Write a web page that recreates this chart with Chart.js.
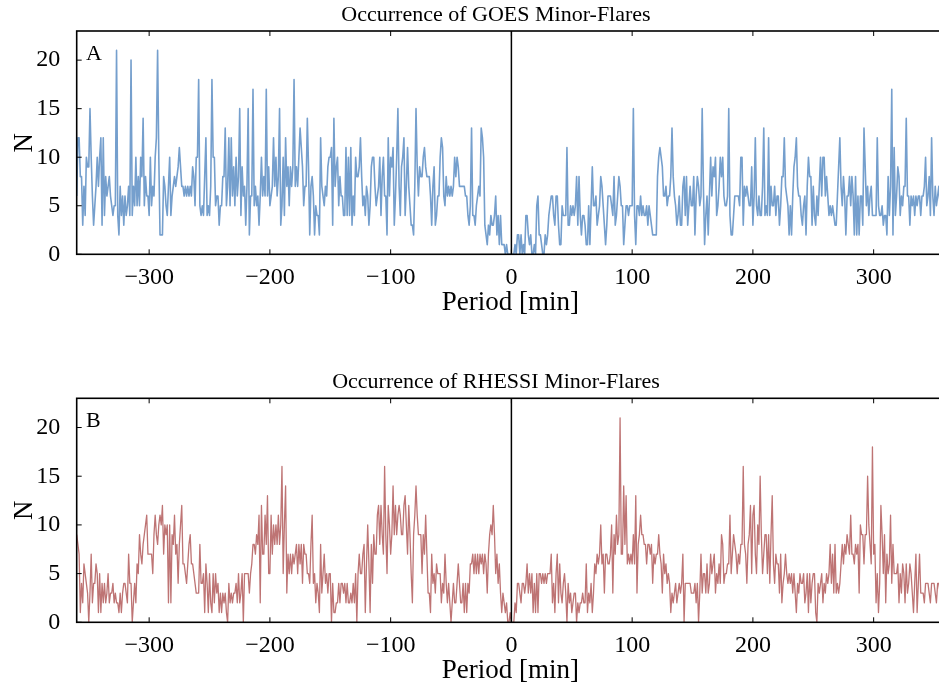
<!DOCTYPE html>
<html>
<head>
<meta charset="utf-8">
<title>Minor-flare occurrence</title>
<script src="https://cdn.jsdelivr.net/npm/chart.js@4.4.1/dist/chart.umd.min.js"></script>
<style>
  html, body { margin: 0; padding: 0; background: #ffffff; overflow: hidden; width: 939px; height: 689px; }
  canvas { position: absolute; left: 0; }
  #goes { top: 0; }
  #rhessi { top: 345px; }
</style>
</head>
<body>
<canvas id="goes" width="960" height="345"></canvas>
<canvas id="rhessi" width="960" height="344"></canvas>
<script>
// Period offsets in minutes, one bin per minute
const periods = Array.from({ length: 721 }, (_, i) => i - 360);

// GOES minor-flare counts per period bin (-360 … 360)
const goesCounts = [
  6,12,12,8,8,3,7,4,10,9,        // -360
  9,15,10,6,3,5,7,10,7,10,       // -350
  12,3,12,4,8,6,7,8,6,5,         // -340
  4,5,5,21,4,2,7,4,6,3,          // -330
  6,4,5,7,4,20,4,7,5,10,         // -320
  5,8,5,10,8,14,5,8,6,6,         // -310
  4,10,5,7,6,10,12,21,10,2,      // -300
  2,2,8,7,5,4,7,10,4,6,          // -290
  7,8,7,8,9,11,9,7,7,6,          // -280
  7,6,7,6,7,6,9,8,5,10,          // -270
  10,18,5,4,5,4,8,12,4,5,        // -260
  4,7,18,10,10,5,6,6,3,5,        // -250
  5,8,8,13,5,7,12,5,12,6,        // -240
  9,5,10,6,8,15,4,9,6,7,         // -230
  3,7,15,2,6,6,17,5,7,5,         // -220
  6,3,6,10,6,8,6,17,6,9,         // -210
  5,6,7,12,7,10,6,8,15,3,        // -200
  5,10,4,12,7,9,5,9,7,9,         // -190
  18,7,9,7,10,13,11,9,5,7,       // -180
  7,14,9,2,7,8,6,2,5,4,          // -170
  4,2,12,7,6,5,7,6,9,10,         // -160
  10,11,3,14,7,9,10,5,8,6,       // -150
  6,4,4,11,4,10,4,11,3,6,        // -140
  4,10,8,8,9,12,8,5,6,4,         // -130
  7,6,3,5,9,10,10,7,5,6,         // -120
  7,10,4,8,10,6,6,2,12,6,        // -110
  10,9,11,3,6,10,15,7,4,9,       // -100
  10,12,4,7,11,7,5,3,3,2,        // -90
  7,15,9,6,9,8,8,10,11,9,        // -80
  8,8,8,6,3,7,9,3,4,6,           // -70
  6,10,12,11,6,5,8,6,7,6,        // -60
  7,6,7,10,8,10,9,7,7,7,         // -50
  7,7,6,6,4,3,5,13,4,4,          // -40
  3,5,6,7,6,13,12,10,3,2,        // -30
  1,3,2,4,3,3,4,6,2,4,           // -20
  1,4,1,1,1,0,1,0,0,0,           // -10
  0,                             // 0
  0,0,1,0,2,2,0,2,0,1,           // 1
  0,4,4,2,1,2,0,0,1,0,           // 11
  5,6,2,2,1,0,0,2,1,2,           // 21
  4,5,6,6,4,3,6,6,3,1,           // 31
  1,5,4,4,4,11,3,3,5,4,          // 41
  5,4,5,8,3,8,4,2,4,4,           // 51
  3,1,1,5,1,5,9,5,5,6,           // 61
  3,4,5,8,7,5,3,1,3,6,           // 71
  6,6,5,4,8,3,4,6,8,7,           // 81
  5,5,1,3,5,5,4,5,5,5,           // 91
  15,4,1,5,5,4,6,4,5,4,          // 101
  4,5,3,5,4,3,2,2,2,2,           // 111
  8,10,11,10,9,6,6,7,5,6,        // 121
  6,8,13,8,6,5,3,4,6,3,          // 131
  3,7,8,4,8,3,5,7,5,5,           // 141
  8,2,6,8,7,5,6,15,7,1,          // 151
  4,6,2,6,10,6,9,8,10,4,         // 161
  5,7,10,8,10,6,5,5,6,15,        // 171
  4,2,2,4,6,6,6,6,5,10,          // 181
  10,3,7,6,7,6,5,5,9,3,          // 191
  6,12,5,4,6,4,4,7,13,4,         // 201
  5,4,12,4,7,5,5,7,4,6,          // 211
  6,3,5,8,8,12,7,6,5,2,          // 221
  5,2,6,9,10,12,7,6,6,4,         // 231
  3,5,6,2,7,10,8,8,3,7,          // 241
  4,3,6,4,7,10,6,10,10,6,        // 251
  8,6,4,5,4,5,4,3,3,6,           // 261
  9,12,7,5,8,6,2,6,6,8,          // 271
  5,8,6,2,8,2,6,2,6,6,           // 281
  3,13,9,5,7,4,6,7,4,4,          // 291
  4,4,12,5,4,4,5,3,4,4,          // 301
  2,8,4,7,17,2,11,4,6,9,         // 311
  8,4,6,5,7,7,14,6,6,3,          // 321
  6,5,6,4,6,5,6,6,4,6,           // 331
  6,7,10,5,6,8,4,12,6,4,         // 341
  7,5,6,7,5,6,4,6,5,6            // 351
];

// RHESSI minor-flare counts per period bin (-360 … 360)
const rhessiCounts = [
  9,8,7,1,4,2,6,5,4,3,           // -360
  0,3,7,2,4,4,6,5,1,5,           // -350
  1,4,2,4,2,3,5,2,3,3,           // -340
  4,2,3,2,2,1,3,1,3,4,           // -330
  4,3,2,7,4,4,0,2,4,2,           // -320
  6,5,9,7,6,8,9,10,11,7,         // -310
  7,7,7,5,9,11,9,8,10,11,        // -300
  10,12,7,10,9,10,2,10,2,9,      // -290
  8,11,7,8,4,8,10,12,6,6,        // -280
  5,4,6,8,9,6,6,5,4,3,           // -270
  3,3,8,4,4,5,1,6,4,1,           // -260
  5,2,1,5,2,5,3,4,1,3,           // -250
  1,3,2,3,1,0,4,2,3,2,           // -240
  3,3,4,2,5,2,3,5,0,5,           // -230
  5,5,5,3,5,6,8,8,7,9,           // -220
  8,11,2,12,7,7,11,8,13,5,       // -210
  5,11,7,10,8,10,8,11,8,10,      // -200
  16,5,10,14,3,7,5,7,5,7,        // -190
  6,7,8,5,8,6,8,4,8,7,           // -180
  7,5,5,4,8,11,4,5,2,4,          // -170
  3,1,8,3,5,7,4,5,3,5,           // -160
  5,0,4,1,1,2,2,4,2,4,           // -150
  4,3,4,2,4,2,2,3,2,4,           // -140
  2,5,0,5,7,5,5,7,8,1,           // -130
  6,10,6,1,8,4,9,7,7,11,         // -120
  12,8,12,9,7,16,9,5,12,10,      // -110
  7,9,14,9,12,9,11,12,11,9,      // -100
  9,12,13,10,7,12,9,5,2,9,       // -90
  11,14,11,9,9,9,5,9,7,11,       // -80
  7,3,3,1,7,4,5,3,6,5,           // -70
  5,5,2,4,3,7,4,2,4,2,           // -60
  0,2,4,2,2,4,6,4,2,2,           // -50
  4,1,4,1,4,3,6,6,7,5,           // -40
  7,5,7,5,7,6,7,5,7,6,           // -30
  3,7,9,10,9,12,9,5,7,4,         // -20
  6,3,1,3,2,1,2,0,0,1,           // -10
  0,                             // 0
  0,0,2,1,4,4,3,2,4,4,           // 1
  3,4,6,3,5,3,5,1,4,1,           // 11
  5,1,5,5,4,5,4,5,4,5,           // 21
  5,5,7,2,4,1,5,7,2,6,           // 31
  3,2,4,5,3,0,4,2,3,1,           // 41
  2,3,3,0,2,1,2,2,3,2,           // 51
  2,6,1,3,2,4,1,3,6,5,           // 61
  7,6,7,10,6,7,3,7,7,6,          // 71
  6,7,10,3,9,7,11,8,9,21,        // 81
  7,7,14,8,13,6,7,6,7,6,         // 91
  9,6,13,3,8,9,11,9,9,8,         // 101
  8,6,8,8,7,8,4,7,6,7,           // 111
  7,9,7,6,3,7,5,6,4,5,           // 121
  4,1,3,2,3,4,2,3,4,3,           // 131
  4,7,0,4,4,4,4,4,3,3,           // 141
  3,4,2,4,0,3,7,3,5,5,           // 151
  3,6,3,4,7,5,6,7,3,5,           // 161
  4,6,4,9,8,4,5,5,6,6,           // 171
  11,5,7,9,8,7,5,7,6,8,          // 181
  8,16,8,7,4,8,9,12,5,11,        // 191
  12,7,5,10,8,15,9,5,7,9,        // 201
  9,5,9,4,9,13,6,4,7,6,          // 211
  6,3,7,2,4,5,7,5,4,5,           // 221
  4,5,3,5,3,1,4,3,5,4,           // 231
  4,5,2,3,5,1,5,2,4,5,           // 241
  5,1,0,4,3,4,5,2,4,3,           // 251
  5,4,5,8,4,7,3,8,3,4,           // 261
  3,4,6,8,6,8,7,9,8,7,           // 271
  11,7,7,6,8,7,8,3,10,9,         // 281
  9,6,9,9,15,10,8,6,18,7,        // 291
  8,2,5,1,4,12,9,5,9,2,          // 301
  7,5,6,11,4,8,5,5,5,6,          // 311
  2,5,3,6,5,2,6,3,4,6,           // 321
  5,3,1,4,7,1,4,7,3,3,           // 331
  3,2,4,4,4,3,2,4,4,4,           // 341
  3,2,4,4,3,4,2,3,4,3            // 351
];

const xTickValues = [-300, -200, -100, 0, 100, 200, 300];
const yTickValues = [0, 5, 10, 15, 20];
const xLabel = 'Period [min]';
const yLabel = 'N';

const SERIF = '"Liberation Serif", "Times New Roman", serif';

// Frame, inward tick marks, zero-period line and the panel texts
const framePlugin = {
  id: 'frame',
  afterDatasetsDraw(chart, args, opts) {
    const { ctx, chartArea: a, scales: { x, y } } = chart;
    ctx.save();

    const x0 = x.getPixelForValue(0);
    ctx.strokeStyle = '#000';
    ctx.lineWidth = 1.5;
    ctx.beginPath();
    ctx.moveTo(x0, a.top);
    ctx.lineTo(x0, a.bottom);
    ctx.stroke();

    const L = 5;
    ctx.lineWidth = 1;
    ctx.beginPath();
    for (const t of x.ticks) {
      const p = x.getPixelForValue(t.value);
      ctx.moveTo(p, a.bottom); ctx.lineTo(p, a.bottom - L);
      ctx.moveTo(p, a.top); ctx.lineTo(p, a.top + L);
    }
    for (const t of y.ticks) {
      const p = y.getPixelForValue(t.value);
      ctx.moveTo(a.left, p); ctx.lineTo(a.left + L, p);
      ctx.moveTo(a.right, p); ctx.lineTo(a.right - L, p);
    }
    ctx.stroke();

    ctx.lineWidth = 1.6;
    ctx.strokeRect(a.left, a.top, a.right - a.left, a.bottom - a.top);

    ctx.fillStyle = '#000';
    ctx.textBaseline = 'alphabetic';

    ctx.font = '22px ' + SERIF;
    ctx.textAlign = 'center';
    ctx.fillText(opts.title, opts.titleX, a.top - 10.5);

    ctx.font = '27px ' + SERIF;
    ctx.fillText(xLabel, (a.left + a.right) / 2 - 1, a.bottom + 55.7);

    ctx.save();
    ctx.translate(31.5, (a.top + a.bottom) / 2);
    ctx.rotate(-Math.PI / 2);
    ctx.fillText(yLabel, 0, 0);
    ctx.restore();

    ctx.font = '22px ' + SERIF;
    ctx.textAlign = 'left';
    ctx.fillText(opts.letter, a.left + 9.3, a.top + 29);

    ctx.restore();
  }
};

function formatTick(v) {
  return v < 0 ? '\u2212' + Math.abs(v) : String(v);
}

function makePanel(canvasId, counts, color, width, title, letter, padTop, padBottom) {
  return new Chart(document.getElementById(canvasId), {
    type: 'line',
    data: {
      datasets: [{
        data: periods.map((p, i) => ({ x: p, y: counts[i] })),
        borderColor: color,
        borderWidth: width,
        pointRadius: 0,
        tension: 0,
        fill: false,
        borderJoinStyle: 'round'
      }]
    },
    options: {
      responsive: false,
      animation: false,
      devicePixelRatio: 1,
      layout: {
        autoPadding: false,
        padding: { left: 0, top: padTop, right: 13.9, bottom: padBottom }
      },
      plugins: {
        legend: { display: false },
        tooltip: { enabled: false },
        frame: { title: title, titleX: 496, letter: letter }
      },
      scales: {
        x: {
          type: 'linear',
          min: -360,
          max: 360,
          grid: { display: false },
          border: { display: false },
          afterBuildTicks: s => { s.ticks = xTickValues.map(v => ({ value: v })); },
          afterFit: s => { s.height = 60; },
          ticks: {
            color: '#000',
            font: { family: SERIF, size: 24 },
            padding: 1.2,
            maxRotation: 0,
            autoSkip: false,
            callback: v => formatTick(v)
          }
        },
        y: {
          type: 'linear',
          min: 0,
          max: 23,
          grid: { display: false },
          border: { display: false },
          afterBuildTicks: s => { s.ticks = yTickValues.map(v => ({ value: v })); },
          afterFit: s => { s.width = 76.7; },
          ticks: {
            color: '#000',
            font: { family: SERIF, size: 24 },
            padding: 8.4,
            autoSkip: false,
            callback: v => formatTick(v)
          }
        }
      }
    },
    plugins: [framePlugin]
  });
}

makePanel('goes', goesCounts, '#759fcd', 1.6, 'Occurrence of GOES Minor-Flares', 'A', 31, 30.7);
makePanel('rhessi', rhessiCounts, '#be7474', 1.3, 'Occurrence of RHESSI Minor-Flares', 'B', 53.3, 6.7);
</script>
</body>
</html>
